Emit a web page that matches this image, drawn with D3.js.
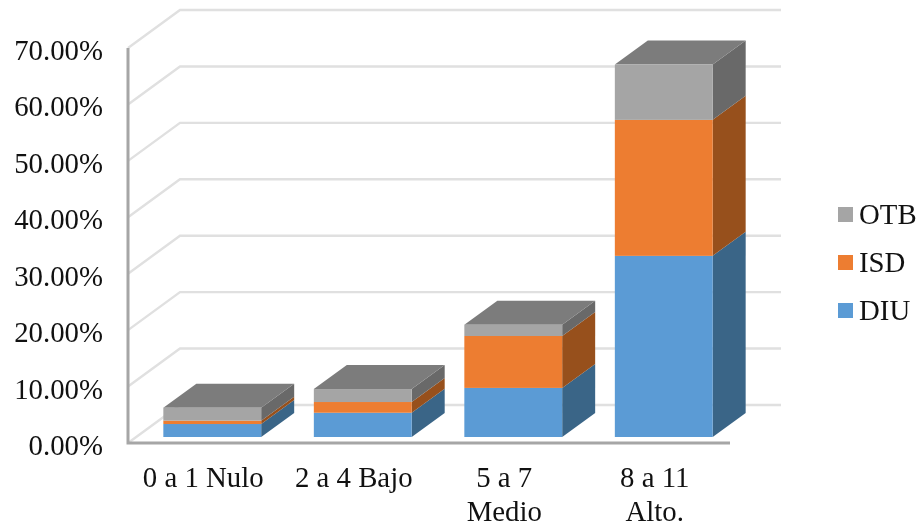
<!DOCTYPE html>
<html>
<head>
<meta charset="utf-8">
<script src="https://cdn.jsdelivr.net/npm/d3@7"></script>
<style>
html, body { margin: 0; padding: 0; background: #fff; }
svg { display: block; filter: blur(0.5px); }
text { font-family: "Liberation Serif", serif; font-size: 28.8px; fill: #111; }
</style>
</head>
<body>
<div id="chart"></div>
<script>
const categories = ["0 a 1 Nulo", "2 a 4 Bajo", "5 a 7 Medio", "8 a 11 Alto."];
const tickLines = [["0 a 1 Nulo"], ["2 a 4 Bajo"], ["5 a 7", "Medio"], ["8 a 11", "Alto."]];
const seriesNames = ["DIU", "ISD", "OTB"];
const diu = [2.3, 4.3, 8.7, 32.1];
const isd = [0.6, 1.9, 9.2, 24.1];
const otb = [2.3, 2.3, 2.0, 9.8];
const yTicks = [0, 10, 20, 30, 40, 50, 60, 70];
const frontColors = ["#5b9bd5", "#ed7d31", "#a5a5a5"];
const sideColors = ["#3a6587", "#97501c", "#696969"];
const topColor = "#7c7c7c";

const width = 921;
const height = 527;

// 3d offsets of the back wall and of the bar depth
const wall = { dx: 52, dy: -38 };
const depth = { dx: 33, dy: -24 };
const inset = { dx: 9, dy: -6 };

const svg = d3.select("#chart").append("svg")
    .attr("width", width)
    .attr("height", height);

const y = d3.scaleLinear().domain([0, 70]).range([443, 48]);

const xAxisScale = d3.scaleBand().domain(categories).range([128, 730]);

const xBars = d3.scaleBand()
    .domain(categories)
    .range([128 + inset.dx, 730 + inset.dx])
    .paddingInner(0.35)
    .paddingOuter(0.175);

// grid lines run along the side wall and then along the back wall
svg.append("g").selectAll("path")
    .data(yTicks)
    .join("path")
    .attr("fill", "none")
    .attr("stroke", "#e0e0e0")
    .attr("stroke-width", 2.4)
    .attr("d", d => `M128,${y(d)}L${128 + wall.dx},${y(d) + wall.dy}H781`);

// y axis
const yAxis = svg.append("g")
    .attr("transform", "translate(128,0)")
    .call(d3.axisLeft(y).tickValues(yTicks).tickSize(0).tickPadding(25)
        .tickFormat(d => d3.format(".2f")(d) + "%"));
yAxis.select(".domain").remove();
yAxis.selectAll("text").attr("dy", "0.4em");

// x axis
const xAxis = svg.append("g")
    .attr("transform", "translate(0,443)")
    .call(d3.axisBottom(xAxisScale).tickSize(0).tickPadding(0));
xAxis.select(".domain").remove();
xAxis.selectAll("text")
    .attr("y", 0)
    .attr("dy", null)
    .text(null)
    .selectAll("tspan")
    .data((d, i) => tickLines[i])
    .join("tspan")
    .attr("x", 0)
    .attr("y", (d, i) => 44 + i * 34)
    .text(d => d);

svg.append("path")
    .attr("fill", "none")
    .attr("stroke", "#a6a6a6")
    .attr("stroke-width", 3)
    .attr("d", `M128,48V${y(0)}H730`);

// stacked bars
const rows = categories.map((c, i) => ({ category: c, DIU: diu[i], ISD: isd[i], OTB: otb[i] }));
const stacked = d3.stack().keys(seriesNames)(rows);

const barY = v => y(v) + inset.dy;

stacked.forEach((layer, s) => {
    const g = svg.append("g").attr("class", "series");
    layer.forEach(d => {
        const x0 = xBars(d.data.category);
        const x1 = x0 + xBars.bandwidth();
        const yb = barY(d[0]);
        const yt = barY(d[1]);
        g.append("path")
            .attr("fill", sideColors[s])
            .attr("d", `M${x1},${yb}L${x1 + depth.dx},${yb + depth.dy}V${yt + depth.dy}L${x1},${yt}Z`);
        if (s === stacked.length - 1) {
            g.append("path")
                .attr("fill", topColor)
                .attr("d", `M${x0},${yt}L${x0 + depth.dx},${yt + depth.dy}H${x1 + depth.dx}L${x1},${yt}Z`);
        }
        g.append("rect")
            .attr("x", x0)
            .attr("y", yt)
            .attr("width", x1 - x0)
            .attr("height", yb - yt)
            .attr("fill", frontColors[s]);
    });
});

// legend, OTB on top
const legendY = d3.scalePoint().domain(seriesNames.slice().reverse()).range([214.5, 310.5]);
const legend = svg.append("g").selectAll("g")
    .data(seriesNames)
    .join("g")
    .attr("transform", d => `translate(838,${legendY(d)})`);
legend.append("rect")
    .attr("x", 0)
    .attr("y", -7.5)
    .attr("width", 15)
    .attr("height", 15)
    .attr("fill", (d, i) => frontColors[i]);
legend.append("text")
    .attr("x", 21)
    .attr("y", 9)
    .text(d => d);
</script>
</body>
</html>
